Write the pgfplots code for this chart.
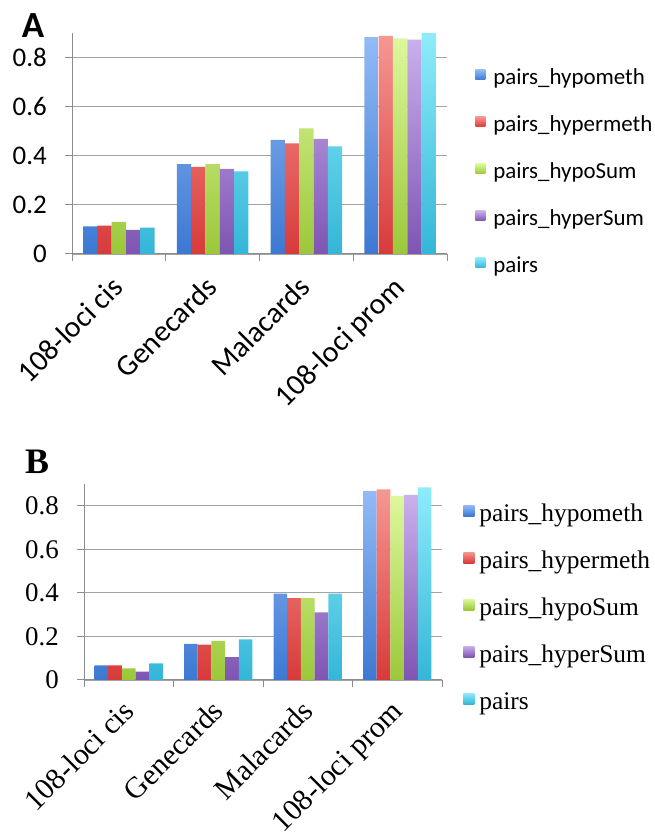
\documentclass[border=0pt]{standalone}
\usepackage{pgfplots}
\usepackage{pgfplotstable}
\pgfplotsset{compat=1.18}
\usepackage{fontspec}
\setmainfont{Carlito}
\newfontfamily\serifB{Liberation Serif}

\definecolor{bluT}{HTML}{92BBF6} \definecolor{bluB}{HTML}{3C78D2}
\definecolor{redT}{HTML}{F69792} \definecolor{redB}{HTML}{D83A3A}
\definecolor{grnT}{HTML}{DDF89C} \definecolor{grnB}{HTML}{9BC83A}
\definecolor{purT}{HTML}{C9B0EC} \definecolor{purB}{HTML}{7E55B3}
\definecolor{cyaT}{HTML}{8EECFA} \definecolor{cyaB}{HTML}{34B6D8}
\definecolor{axgray}{HTML}{8C8C8C}

\pgfplotstableread{
cat hypo hyper hypoS hyperS pairs
0 0.112 0.116 0.131 0.098 0.107
1 0.366 0.355 0.366 0.347 0.336
2 0.465 0.450 0.512 0.469 0.438
3 0.883 0.888 0.878 0.873 0.899
}\dataA
\pgfplotstableread{
cat hypo hyper hypoS hyperS pairs
0 0.067 0.067 0.053 0.038 0.076
1 0.166 0.162 0.180 0.105 0.186
2 0.397 0.376 0.376 0.311 0.397
3 0.867 0.875 0.846 0.850 0.884
}\dataB

\pgfplotsset{
  mybase/.style={
    scale only axis,
    ybar=0pt,
    bar width=0.153,
    xmin=-0.5, xmax=3.5, ymin=0, ymax=0.9,
    axis x line*=bottom, axis y line*=left,
    axis line style={draw=axgray, line width=1bp},
    ymajorgrids, grid style={draw=axgray!80, line width=0.9bp},
    ytick={0,0.2,0.4,0.6,0.8},
    yticklabels={0,0.2,0.4,0.6,0.8},
    tick align=outside,
    major tick length=7bp,
    tick style={draw=axgray, line width=1bp},
    xtick={-0.5,0.5,1.5,2.5,3.5},
    xticklabels={},
    extra x ticks={0,1,2,3},
    extra x tick labels={108-loci cis,Genecards,Malacards,108-loci prom},
    extra x tick style={major tick length=0pt},
    y tick label style={inner sep=0pt, xshift=-18bp},
    legend cell align=left,
    every axis plot/.append style={draw=none},
  }
}

\begin{document}
\begin{tikzpicture}[x=1bp,y=1bp]
\useasboundingbox (0,0) rectangle (655,832);

\node[font=\bfseries\fontsize{37}{37}\selectfont, inner sep=0pt] at (33,806) {A};
\node[font=\serifB\bfseries\fontsize{36}{36}\selectfont, inner sep=0pt] at (37,370) {B};

\begin{axis}[mybase,
  at={(72bp,578bp)}, anchor=south west,
  width=375bp, height=221bp,
  x tick label style={font=\fontsize{30}{30}\selectfont, inner sep=0pt, xshift=6bp, yshift=-35bp, rotate=45, anchor=base east},
  y tick label style={font=\fontsize{27}{27}\selectfont},
  legend style={at={(1.075,0.363)}, anchor=west, draw=none, fill=none, inner sep=0pt,
    row sep=25bp, column sep=8bp, font=\fontsize{23}{23}\selectfont,
    nodes={inner sep=0pt, text height=16bp, text depth=6bp}},
  legend image code/.code={\path[#1,draw=none] (0bp,0bp) rectangle (10bp,10bp);},
]
\addplot[top color=bluT, bottom color=bluB] table[x=cat,y=hypo]{\dataA};
\addplot[top color=redT, bottom color=redB] table[x=cat,y=hyper]{\dataA};
\addplot[top color=grnT, bottom color=grnB] table[x=cat,y=hypoS]{\dataA};
\addplot[top color=purT, bottom color=purB] table[x=cat,y=hyperS]{\dataA};
\addplot[top color=cyaT, bottom color=cyaB] table[x=cat,y=pairs]{\dataA};
\legend{pairs\_hypometh,pairs\_hypermeth,pairs\_hypoSum,pairs\_hyperSum,pairs}
\end{axis}

\begin{axis}[mybase,
  at={(84bp,152bp)}, anchor=south west,
  width=358bp, height=196bp,
  x tick label style={font=\serifB\fontsize{30}{30}\selectfont, inner sep=0pt, xshift=7bp, yshift=-33bp, rotate=45, anchor=base east},
  y tick label style={font=\serifB\fontsize{27}{27}\selectfont},
  legend style={at={(1.059,0.357)}, anchor=west, draw=none, fill=none, inner sep=0pt,
    row sep=25bp, column sep=5bp, font=\serifB\fontsize{25.5}{25.5}\selectfont,
    nodes={inner sep=0pt, text height=16bp, text depth=6bp}},
  legend image code/.code={\path[#1,draw=none] (0bp,0bp) rectangle (11bp,11bp);},
]
\addplot[top color=bluT, bottom color=bluB] table[x=cat,y=hypo]{\dataB};
\addplot[top color=redT, bottom color=redB] table[x=cat,y=hyper]{\dataB};
\addplot[top color=grnT, bottom color=grnB] table[x=cat,y=hypoS]{\dataB};
\addplot[top color=purT, bottom color=purB] table[x=cat,y=hyperS]{\dataB};
\addplot[top color=cyaT, bottom color=cyaB] table[x=cat,y=pairs]{\dataB};
\legend{pairs\_hypometh,pairs\_hypermeth,pairs\_hypoSum,pairs\_hyperSum,pairs}
\end{axis}
\end{tikzpicture}
\end{document}
